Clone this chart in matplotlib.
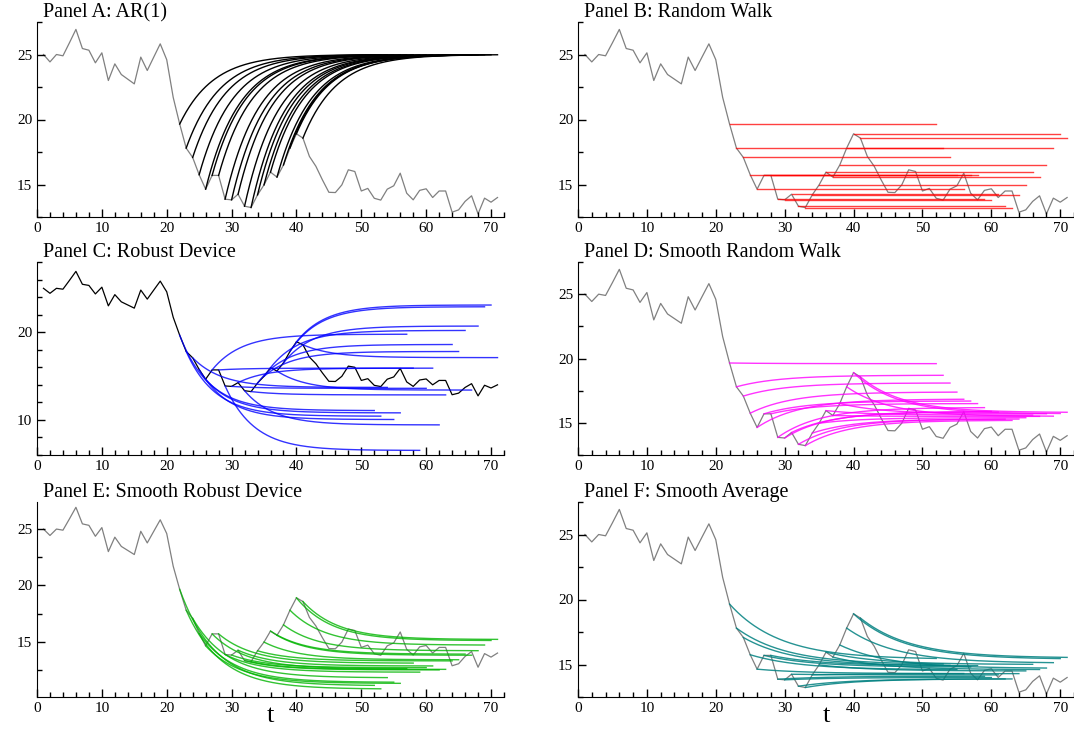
import numpy as np
import matplotlib
matplotlib.use("Agg")
import matplotlib.pyplot as plt
from matplotlib.ticker import MultipleLocator

plt.rcParams['font.family'] = ['Liberation Serif', 'DejaVu Serif']

t_obs = np.arange(1, 72)
y_obs = [25.0, 24.43, 25.0, 24.9, 25.9, 26.93, 25.46, 25.33, 24.36, 25.13,
         23.0, 24.28, 23.46, 23.1, 22.74, 24.8, 23.77, 24.8, 25.82, 24.6,
         21.7, 19.65, 17.8, 17.08, 15.75, 14.64, 15.7, 15.7, 13.87, 13.82,
         14.25, 13.33, 13.23, 14.2, 14.97, 15.95, 15.57, 16.5, 17.8, 18.9,
         18.57, 17.16, 16.4, 15.36, 14.4, 14.38, 14.97, 16.13, 16.0, 14.5,
         14.7, 13.94, 13.8, 14.64, 14.9, 15.87, 14.33, 13.82, 14.55, 14.67,
         14.0, 14.5, 14.5, 12.87, 13.05, 13.7, 14.13, 12.74, 13.95, 13.64,
         14.0]

# forecast origins and horizon
origins = list(range(22, 42))
horizon = 30

# long-run levels each forecast settles to, per panel
level_ar1 = [25.0] * 20
level_rw = None  # random walk: stays at the last observation
level_robust = [11.06, 10.42, 13.7, 10.04, 10.8, 19.77, 15.9, 6.52, 13.6, 15.9,
                9.43, 12.85, 18.6, 17.8, 20.2, 13.4, 20.7, 22.9, 23.1, 17.1]
level_smooth_rw = [19.6, 18.7, 18.1, 17.4, 16.85, 16.7, 16.5, 16.2, 15.9, 15.85,
                   15.3, 15.2, 15.3, 15.4, 15.6, 15.5, 15.7, 15.5, 15.7, 15.8]
level_smooth_robust = [11.1, 10.8, 11.8, 11.4, 11.3, 12.6, 13.1, 12.3, 12.7, 12.85,
                       12.5, 12.55, 13.3, 13.4, 13.9, 13.8, 14.2, 14.7, 15.1, 15.2]
level_smooth_avg = [15.4, 15.0, 14.9, 14.6, 14.3, 14.8, 14.9, 14.1, 14.0, 14.2,
                    13.9, 13.9, 14.3, 14.5, 15.0, 14.6, 14.7, 15.1, 15.4, 15.5]

panels = [
    # title, levels, decay, colour, alpha, base colour, ylim, major, minor
    ("Panel A: AR(1)", level_ar1, 0.825, "black", 1.0, "#808080", (12.5, 27.5), 5, 2.5),
    ("Panel B: Random Walk", level_rw, 1.0, "red", 0.75, "#808080", (12.5, 27.5), 5, 2.5),
    ("Panel C: Robust Device", level_robust, 0.8, "blue", 0.8, "black", (6, 28), 10, 2),
    ("Panel D: Smooth Random Walk", level_smooth_rw, 0.85, "magenta", 0.8, "#808080", (12.5, 27.5), 5, 2.5),
    ("Panel E: Smooth Robust Device", level_smooth_robust, 0.83, "#00b400", 0.8, "#808080", (10.1, 27.4), 5, 2.5),
    ("Panel F: Smooth Average", level_smooth_avg, 0.87, "#008080", 0.85, "#808080", (12.5, 27.5), 5, 2.5),
]

W, H = 1074, 729
fig = plt.figure(figsize=(W / 100, H / 100), dpi=100)

lefts = [37, 578]
widths = [467, 496]
tops = [22, 262, 502]
heights = [195, 193, 195]

for i, (title, levels, decay, col, alpha, base_col, ylim, major, minor) in enumerate(panels):
    r, c = divmod(i, 2)
    ax = fig.add_axes([lefts[c] / W, 1 - (tops[r] + heights[r]) / H,
                       widths[c] / W, heights[r] / H])

    ax.plot(t_obs, y_obs, color=base_col, lw=0.9, zorder=1)

    for k, T in enumerate(origins):
        y0 = y_obs[T - 1]
        h = np.linspace(0, horizon, 301)
        if levels is None:
            yf = np.full_like(h, y0)
        else:
            a = levels[k]
            yf = a + (y0 - a) * decay ** h
        ax.plot(T + h, yf, color=col, lw=1.0, alpha=alpha, zorder=2)

    ax.set_xlim(0, 72)
    ax.set_ylim(*ylim)
    ax.xaxis.set_major_locator(MultipleLocator(10))
    ax.xaxis.set_minor_locator(MultipleLocator(2))
    ax.yaxis.set_major_locator(MultipleLocator(major))
    ax.yaxis.set_minor_locator(MultipleLocator(minor))
    ax.tick_params(which="both", direction="in", labelsize=11, width=1)
    ax.tick_params(which="major", length=6)
    ax.tick_params(which="minor", length=3.5)
    for s in ["top", "right"]:
        ax.spines[s].set_visible(False)

    fig.text((lefts[c] + 6) / W, 1 - (tops[r] - 5) / H, title, fontsize=14.5,
             ha="left", va="baseline")
    if r == 2:
        x_mid = (lefts[c] + widths[c] * 36 / 72) / W
        fig.text(x_mid, 2 / H, "t", fontsize=19, ha="center", va="bottom")

fig.savefig("out.png", dpi=100)
